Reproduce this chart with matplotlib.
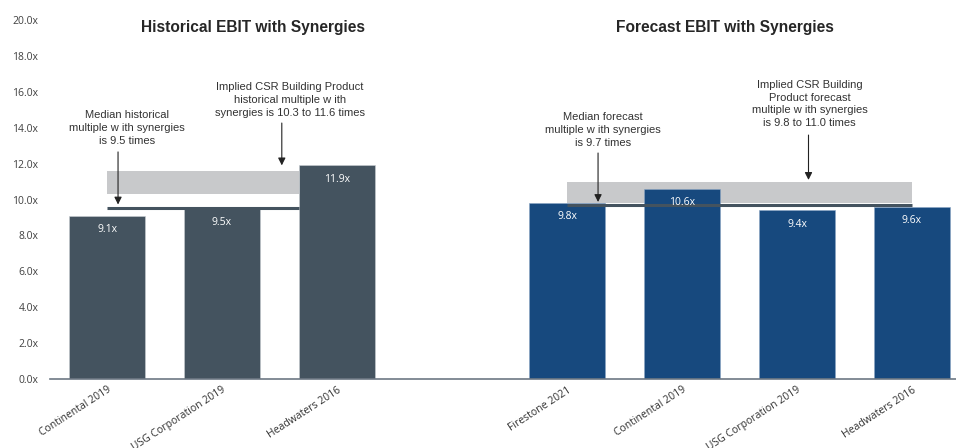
import matplotlib
matplotlib.use("Agg")
import matplotlib.pyplot as plt

# ---- data ----
hist_categories = ["Continental 2019", "USG Corporation 2019", "Headwaters 2016"]
hist_values = [9.1, 9.5, 11.9]
fc_categories = ["Firestone 2021", "Continental 2019", "USG Corporation 2019", "Headwaters 2016"]
fc_values = [9.8, 10.6, 9.4, 9.6]
hist_median = 9.5
hist_range = [10.3, 11.6]
fc_median = 9.7
fc_range = [9.8, 11.0]
yticks = [0, 2, 4, 6, 8, 10, 12, 14, 16, 18, 20]

hist_color = "#44535F"
fc_color = "#17497E"
band_color = "#C8C9CB"
text_color = "#333333"

fig = plt.figure(figsize=(9.56, 4.48), dpi=100)
ax = fig.add_axes([49.5 / 956, 69 / 448, 920 / 956, 359 / 448])

hist_x = list(range(len(hist_values)))
fc_x = [len(hist_values) + 1 + i for i in range(len(fc_values))]
bw = 0.66

# bands
ax.fill_between([hist_x[0], hist_x[-1] - bw / 2], hist_range[0], hist_range[1],
                color=band_color, lw=0, zorder=1)
ax.fill_between([fc_x[0], fc_x[-1]], fc_range[0], fc_range[1],
                color=band_color, lw=0, zorder=1)

ax.bar(hist_x, hist_values, width=bw, color=hist_color, zorder=2,
       edgecolor="#C9CED3", linewidth=0.4)
ax.bar(fc_x, fc_values, width=bw, color=fc_color, zorder=2,
       edgecolor="#8AA6C4", linewidth=0.4)

# median lines
ax.plot([hist_x[0], hist_x[-1] - bw / 2], [hist_median, hist_median],
        color=hist_color, lw=2.2, zorder=3, solid_capstyle="butt")
ax.plot([fc_x[0], fc_x[-1]], [fc_median, fc_median],
        color=hist_color, lw=2.2, zorder=3, solid_capstyle="butt")

# value labels
for xs, vs in ((hist_x, hist_values), (fc_x, fc_values)):
    for x, v in zip(xs, vs):
        ax.annotate(f"{v:.1f}x", (x, v), xytext=(0, -10), textcoords="offset points",
                    ha="center", va="center", color="white", fontsize=7.5,
                    family="Open Sans", zorder=4)

ax.set_xlim(-0.5, 7.5)
ax.set_ylim(0, 20)
ax.set_yticks(yticks)
ax.set_yticklabels([f"{t:.1f}x" for t in yticks], family="Open Sans", fontsize=7.5,
                   color="#404040")
ax.set_xticks(hist_x + fc_x)
ax.set_xticklabels(hist_categories + fc_categories, rotation=33, ha="right",
                   rotation_mode="anchor", family="Open Sans", fontsize=7.5,
                   color="#303030")
ax.tick_params(axis="both", length=0)
ax.tick_params(axis="x", pad=4)
ax.tick_params(axis="y", pad=8)
for s in ("top", "right", "left"):
    ax.spines[s].set_visible(False)
ax.spines["bottom"].set_color("#6D7884")
ax.spines["bottom"].set_linewidth(1.2)

# titles
ax.text(1.27, 19.6, "Historical EBIT with Synergies", ha="center", va="center",
        fontsize=11.2, fontweight="bold", family="Liberation Sans", color="#262626")
ax.text(5.37, 19.6, "Forecast EBIT with Synergies", ha="center", va="center",
        fontsize=11.2, fontweight="bold", family="Liberation Sans", color="#262626")

# annotations
def note(tx, ty, txt, ax_x, y0, y1):
    ax.text(tx, ty, txt, ha="center", va="center", fontsize=8,
            family="Liberation Sans", color=text_color, linespacing=1.35)
    ax.annotate("", xy=(ax_x, y1), xytext=(ax_x, y0),
                arrowprops=dict(arrowstyle="-|>", color="#222222", lw=0.8,
                                mutation_scale=11, shrinkA=0, shrinkB=0), zorder=5)

note(0.174, 13.98, "Median historical\nmultiple w ith synergies\nis 9.5 times",
     0.096, 12.65, 9.72)
note(1.59, 15.54, "Implied CSR Building Product\nhistorical multiple w ith\nsynergies is 10.3 to 11.6 times",
     1.52, 14.26, 11.9)
note(4.31, 13.87, "Median forecast\nmultiple w ith synergies\nis 9.7 times",
     4.27, 12.59, 9.86)
note(6.11, 15.32, "Implied CSR Building\nProduct forecast\nmultiple w ith synergies\nis 9.8 to 11.0 times",
     6.10, 13.59, 11.09)

fig.savefig("out.png", dpi=100)
